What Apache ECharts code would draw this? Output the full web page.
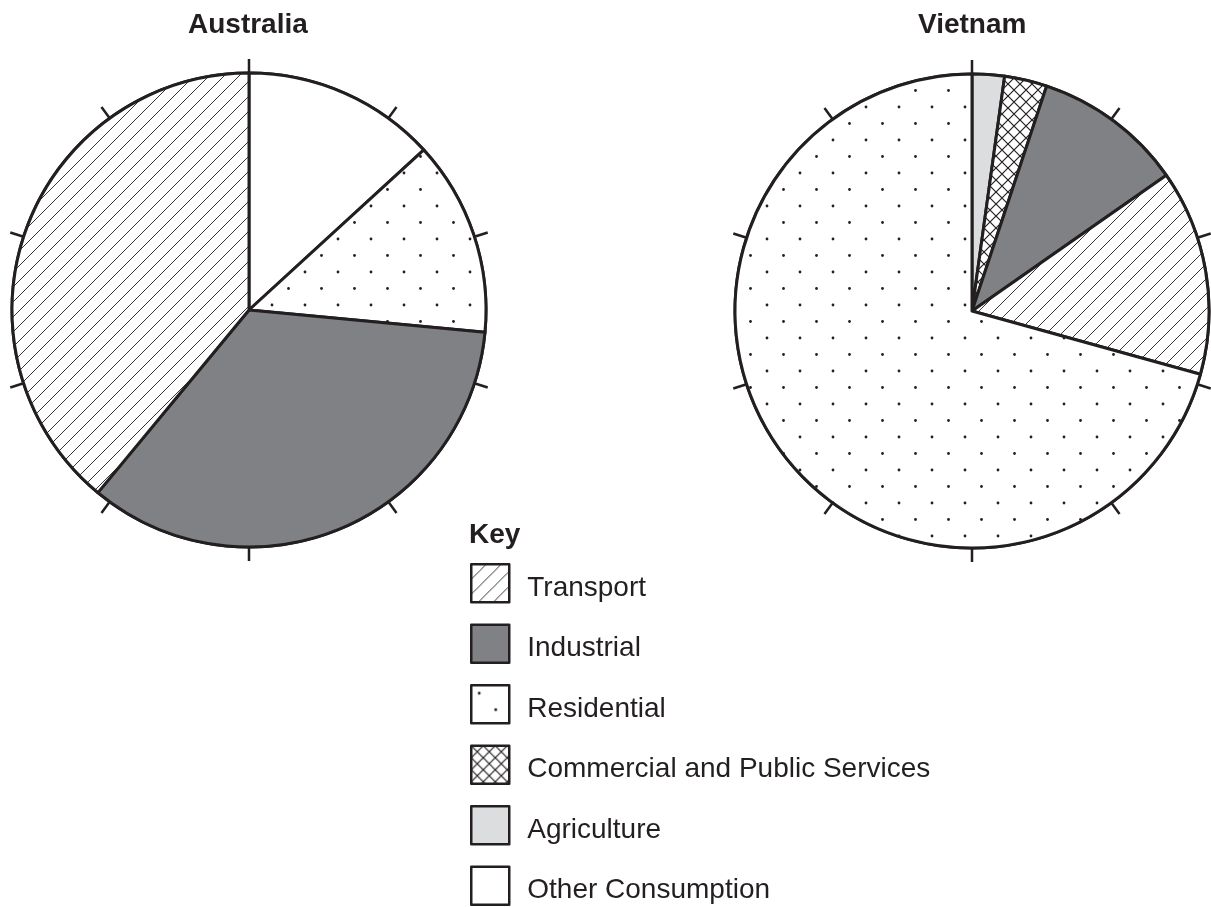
<!DOCTYPE html>
<html><head><meta charset="utf-8">
<script src="https://cdn.jsdelivr.net/npm/echarts@6/dist/echarts.min.js"></script>
<style>html,body{margin:0;padding:0;background:#fff}#c{width:1211px;height:907px}</style>
</head><body><div id="c"></div>
<script>
// ---- data ----
const countries = ['Australia', 'Vietnam'];
const categories = ['Transport', 'Industrial', 'Residential', 'Commercial and Public Services', 'Agriculture', 'Other Consumption'];
const australiaNames = ['Other Consumption', 'Residential', 'Industrial', 'Transport'];
const australiaValues = [13.2, 13.3, 34.5, 39.0];
const vietnamNames = ['Agriculture', 'Commercial and Public Services', 'Industrial', 'Transport', 'Residential'];
const vietnamValues = [2.2, 2.9, 10.2, 14.0, 70.7];
const keyTitle = 'Key';

// ---- patterns ----
const INK = '#231f20';
function makeCanvas(w, h) { const c = document.createElement('canvas'); c.width = w; c.height = h; return c; }
function hatchPattern() {
  const s = 15, c = makeCanvas(s, s), x = c.getContext('2d');
  x.fillStyle = '#fff'; x.fillRect(0, 0, s, s);
  x.strokeStyle = INK; x.lineWidth = 0.9;
  x.beginPath();
  x.moveTo(-2, s + 2); x.lineTo(s + 2, -2);
  x.moveTo(-2, 2); x.lineTo(2, -2);
  x.moveTo(s - 2, s + 2); x.lineTo(s + 2, s - 2);
  x.stroke();
  return c;
}
function dotPattern() {
  const s = 33, c = makeCanvas(s, s), x = c.getContext('2d');
  x.fillStyle = '#fff'; x.fillRect(0, 0, s, s);
  x.fillStyle = INK;
  x.beginPath(); x.arc(8, 8, 1.4, 0, Math.PI * 2); x.fill();
  x.beginPath(); x.arc(24.5, 24.5, 1.4, 0, Math.PI * 2); x.fill();
  return c;
}
function crossPattern() {
  const s = 12, c = makeCanvas(s, s), x = c.getContext('2d');
  x.fillStyle = '#fff'; x.fillRect(0, 0, s, s);
  x.strokeStyle = INK; x.lineWidth = 1.2;
  x.beginPath();
  x.moveTo(-1, -1); x.lineTo(s + 1, s + 1);
  x.moveTo(-1, s + 1); x.lineTo(s + 1, -1);
  x.stroke();
  return c;
}
const fills = {
  'Transport': { image: hatchPattern(), repeat: 'repeat' },
  'Industrial': '#808184',
  'Residential': { image: dotPattern(), repeat: 'repeat' },
  'Commercial and Public Services': { image: crossPattern(), repeat: 'repeat' },
  'Agriculture': '#dcdddf',
  'Other Consumption': '#ffffff'
};

const centers = [[249, 310], [972, 311]];
const R = 237;
const FONT = 'Liberation Sans, Arial, Helvetica, sans-serif';

function pieSeries(i, names, values) {
  return {
    type: 'pie', name: countries[i], center: centers[i], radius: [0, R],
    startAngle: 90, clockwise: true, silent: true, animation: false,
    avoidLabelOverlap: false, minAngle: 0,
    label: { show: false }, labelLine: { show: false },
    emphasis: { disabled: true },
    itemStyle: { borderColor: INK, borderWidth: 3 },
    data: names.map((n, k) => ({ name: n, value: values[k], itemStyle: { color: fills[n] } }))
  };
}
function angleAxis(i) {
  return {
    polarIndex: i, type: 'value', min: 0, max: 100, interval: 10,
    startAngle: 90, clockwise: true,
    axisLine: { show: true, lineStyle: { color: INK, width: 3 } },
    axisTick: { show: true, length: 14, lineStyle: { color: INK, width: 2.5 } },
    axisLabel: { show: false }, splitLine: { show: false }, splitArea: { show: false }
  };
}

const chart = echarts.init(document.getElementById('c'), null, { renderer: 'canvas' });
chart.setOption({
  backgroundColor: '#ffffff',
  animation: false,
  title: [
    { text: countries[0], left: 188, top: 11, padding: 0, textStyle: { fontSize: 28, fontWeight: 'bold', color: INK, fontFamily: FONT } },
    { text: countries[1], left: 918, top: 11, padding: 0, textStyle: { fontSize: 28, fontWeight: 'bold', color: INK, fontFamily: FONT } },
    { text: keyTitle, left: 469, top: 521, padding: 0, textStyle: { fontSize: 28, fontWeight: 'bold', color: INK, fontFamily: FONT } }
  ],
  polar: [{ center: centers[0], radius: R }, { center: centers[1], radius: R }],
  angleAxis: [angleAxis(0), angleAxis(1)],
  radiusAxis: [
    { polarIndex: 0, type: 'value', show: false, splitLine: { show: false } },
    { polarIndex: 1, type: 'value', show: false, splitLine: { show: false } }
  ],
  legend: {
    data: categories, orient: 'vertical', left: 470, top: 563, height: 344,
    itemWidth: 38, itemHeight: 38, itemGap: 20, icon: 'rect', padding: 0,
    selectedMode: false,
    itemStyle: { borderColor: INK, borderWidth: 2.5 },
    formatter: '{t|{name}}',
    textStyle: {
      fontSize: 28, color: INK, fontFamily: FONT, padding: [0, 0, 0, 13],
      rich: { t: { fontSize: 28, color: INK, fontFamily: FONT, padding: [10, 0, 0, 0] } }
    }
  },
  series: [pieSeries(0, australiaNames, australiaValues), pieSeries(1, vietnamNames, vietnamValues)]
});
</script>
</body></html>
